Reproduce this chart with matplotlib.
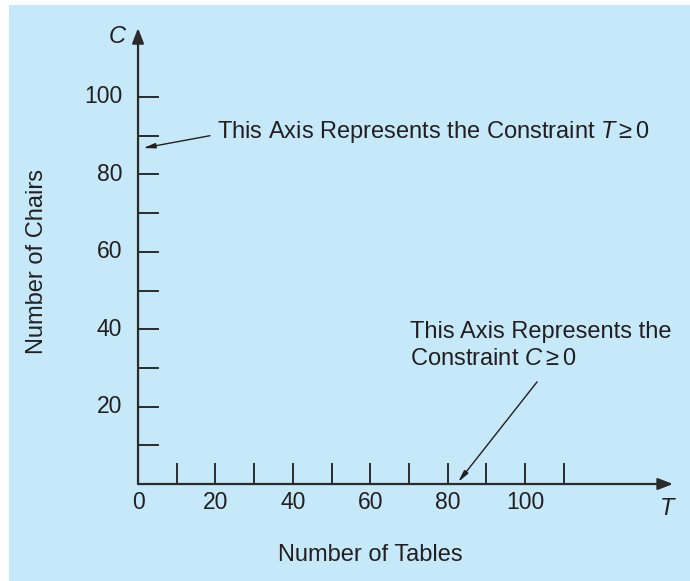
import matplotlib
matplotlib.use('Agg')
import matplotlib.pyplot as plt
from matplotlib.patches import Rectangle

# axis data
t_ticks = [10, 20, 30, 40, 50, 60, 70, 80, 90, 100, 110]
t_labels = [0, 20, 40, 60, 80, 100]
c_ticks = [10, 20, 30, 40, 50, 60, 70, 80, 90, 100]
c_labels = [20, 40, 60, 80, 100]
t_max = 138.2   # arrow tip of T axis
c_max = 117.8   # arrow tip of C axis

note_t = "This Axis Represents the Constraint $T \\geq 0$"
note_c = "This Axis Represents the\nConstraint $C \\geq 0$"

plt.rcParams['font.family'] = ['Liberation Sans', 'DejaVu Sans']
plt.rcParams['mathtext.fontset'] = 'custom'
plt.rcParams['mathtext.rm'] = 'Liberation Sans'
plt.rcParams['mathtext.it'] = 'Liberation Sans:italic'

ink = '#231f20'
fs = 17
fs_tick = 16.5

fig = plt.figure(figsize=(6.9, 5.81), dpi=100)
fig.patch.set_facecolor('white')
fig.patches.append(Rectangle((9 / 690, 0), 1, 576 / 581, transform=fig.transFigure,
                             facecolor='#c6e9f9', edgecolor='none', zorder=-10))

ax = fig.add_axes([0, 0, 1, 1])
ax.set_xlim(-35.66, 142.6)
ax.set_ylim(-25.06, 125.06)
ax.axis('off')

# axes with arrow heads
axis_arrow = dict(arrowstyle='-|>,head_length=0.9,head_width=0.35', color='#2b2b2b',
                  lw=1.6, shrinkA=0, shrinkB=0)
ax.annotate('', xy=(t_max, 0), xytext=(0, 0), arrowprops=axis_arrow)
ax.annotate('', xy=(0, c_max), xytext=(0, 0), arrowprops=axis_arrow)

tick_len = 5.2
for t in t_ticks:
    ax.plot([t, t], [0, tick_len], color='#2b2b2b', lw=1.4)
for c in c_ticks:
    ax.plot([0, tick_len], [c, c], color='#2b2b2b', lw=1.4)

for t in t_labels:
    ax.text(t, -4.9, str(t), ha='center', va='center', fontsize=fs_tick, color=ink)
for c in c_labels:
    ax.text(-4.1, c, str(c), ha='right', va='center', fontsize=fs_tick, color=ink)

ax.text(-5.4, 115.5, 'C', style='italic', ha='center', va='center', fontsize=fs, color=ink)
ax.text(136.7, -6.2, 'T', style='italic', ha='center', va='center', fontsize=fs, color=ink)

ax.text(60.0, -18.3, 'Number of Tables', ha='center', va='center', fontsize=fs, color=ink)
ax.text(-26.1, 57.4, 'Number of Chairs', ha='center', va='center', rotation=90,
        fontsize=fs, color=ink)

note_arrow = dict(arrowstyle='-|>,head_length=0.7,head_width=0.15', color=ink,
                  lw=1.0, shrinkA=0, shrinkB=0)
ax.annotate('', xy=(1.3, 86.8), xytext=(18.6, 90.0), arrowprops=note_arrow)
ax.text(20.4, 91.0, note_t, ha='left', va='center', fontsize=fs, color=ink)

ax.annotate('', xy=(82.7, 0.5), xytext=(103.1, 26.4), arrowprops=note_arrow)
ax.text(70.3, 35.9, note_c, ha='left', va='center', fontsize=fs, color=ink,
        linespacing=1.3)

fig.savefig('out.png', dpi=100, facecolor=fig.get_facecolor())
